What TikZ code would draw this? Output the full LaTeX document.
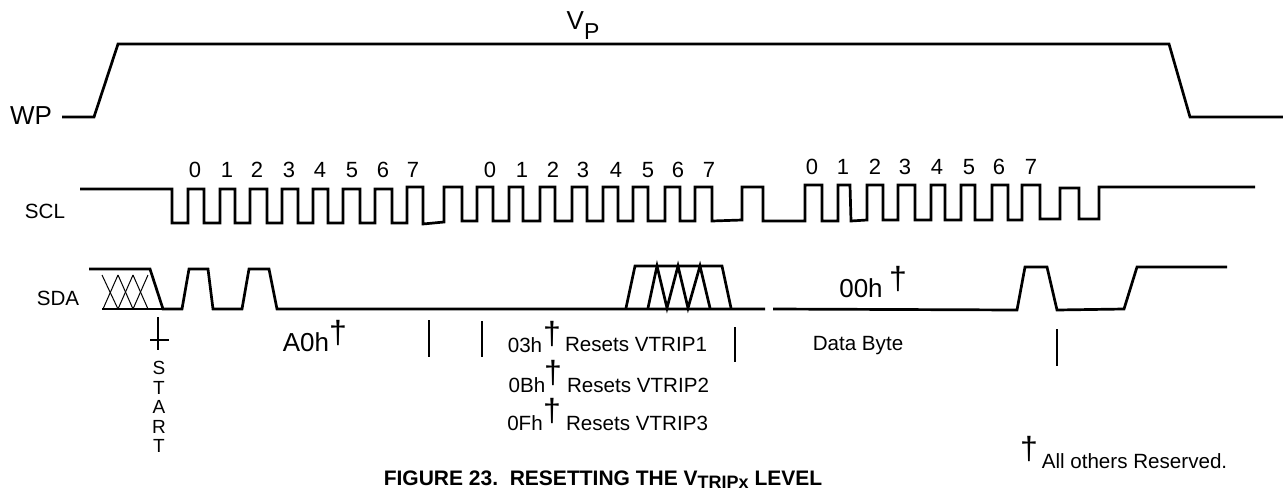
\documentclass[tikz,border=0pt]{standalone}
\usepackage{fontspec}
\setmainfont{Liberation Sans}
\tikzset{
  wave/.style={line width=2.7pt,line join=miter},
  thinwave/.style={line width=1pt},
  mark line/.style={line width=1.6pt},
  lab/.style={inner sep=0pt,font=\fontsize{20.6}{22}\selectfont},
  biglab/.style={inner sep=0pt,font=\fontsize{26}{28}\selectfont},
  bit/.style={inner sep=0pt,font=\fontsize{22}{24}\selectfont},
  dag/.style={inner sep=0pt,font=\fontsize{32}{34}\selectfont},
}
\begin{document}
\begin{tikzpicture}[x=1pt,y=-1pt]
\useasboundingbox (0,0) rectangle (1283,490);

% WP
\node (wp) at (31,116) [biglab] {WP};
\node (vp) at (583,29) [biglab,anchor=base] {V\raisebox{-10pt}{\fontsize{23}{24}\selectfont P}};
\draw [wave] (62,117) -- (94,117) -- (118,44) -- (1169,44) -- (1190,117) -- (1283,117);

% SCL
\node (scl) at (45,211) [lab] {SCL};
\draw [wave] (80,189) -- (172,189) -- (172,223) -- (188,223) -- (188,189) -- (204,189) -- (204,223) -- (220,223) -- (220,189)
  -- (235,189) -- (235,223) -- (250,223) -- (250,189) -- (267,189) -- (267,223) -- (282,223) -- (282,189)
  -- (298,189) -- (298,223) -- (313,223) -- (313,189) -- (328,189) -- (328,223) -- (343,223) -- (343,189)
  -- (360,189) -- (360,223) -- (375,223) -- (375,189) -- (392,189) -- (392,223) -- (407,223) -- (407,187)
  -- (423,187) -- (423,224) -- (444,222) -- (444,187) -- (462,187) -- (462,221) -- (477,221) -- (477,187)
  -- (493,187) -- (493,221) -- (509,221) -- (509,187) -- (523,187) -- (523,221) -- (540,221) -- (540,187)
  -- (555,187) -- (555,221) -- (572,221) -- (572,187) -- (587,187) -- (587,221) -- (603,221) -- (603,187)
  -- (618,187) -- (618,221) -- (633,221) -- (633,187) -- (648,187) -- (648,221) -- (665,221) -- (665,187)
  -- (680,187) -- (680,221) -- (695,221) -- (695,187) -- (712,187) -- (712,221) -- (742,220) -- (742,187)
  -- (763,187) -- (763,221) -- (805,221) -- (805,185) -- (822,185) -- (822,221) -- (838,221) -- (838,185)
  -- (850,185) -- (851,221) -- (867,220) -- (867,185) -- (883,185) -- (883,220) -- (898,220) -- (898,185)
  -- (915,185) -- (915,220) -- (931,220) -- (931,185) -- (945,185) -- (945,220) -- (961,220) -- (961,185)
  -- (975,185) -- (975,220) -- (992,220) -- (992,185) -- (1008,185) -- (1008,220) -- (1022,220) -- (1022,185)
  -- (1040,185) -- (1040,219) -- (1060,219) -- (1060,188) -- (1079,188) -- (1079,219) -- (1099,219) -- (1099,187) -- (1255,187);

% bit numbers
\node (a0) at (195,170) [bit] {0};
\node (a1) at (227,170) [bit] {1};
\node (a2) at (257,170) [bit] {2};
\node (a3) at (289,170) [bit] {3};
\node (a4) at (320,170) [bit] {4};
\node (a5) at (352,170) [bit] {5};
\node (a6) at (383,170) [bit] {6};
\node (a7) at (413,170) [bit] {7};
\node (b0) at (490,170) [bit] {0};
\node (b1) at (522,170) [bit] {1};
\node (b2) at (553,170) [bit] {2};
\node (b3) at (583,170) [bit] {3};
\node (b4) at (616,170) [bit] {4};
\node (b5) at (648,170) [bit] {5};
\node (b6) at (678,170) [bit] {6};
\node (b7) at (709,170) [bit] {7};
\node (c0) at (812,167) [bit] {0};
\node (c1) at (843,167) [bit] {1};
\node (c2) at (875,167) [bit] {2};
\node (c3) at (905,167) [bit] {3};
\node (c4) at (937,167) [bit] {4};
\node (c5) at (969,167) [bit] {5};
\node (c6) at (999,167) [bit] {6};
\node (c7) at (1031,167) [bit] {7};

% SDA
\node (sda) at (58,298) [lab] {SDA};
\draw [wave] (89,269) -- (150,269) -- (163,309) -- (182,309) -- (189,269) -- (208,269) -- (213,309) -- (242,309) -- (249,269) -- (269,269) -- (277,309) -- (765,309);
\draw [wave] (102,309) -- (163,309);
\draw [thinwave] (102,275) -- (118,309);
\draw [thinwave] (118,275) -- (103,309);
\draw [thinwave] (118,275) -- (133,309);
\draw [thinwave] (133,275) -- (118,309);
\draw [thinwave] (133,275) -- (148,309);
\draw [thinwave] (148,275) -- (133,309);
\draw [wave] (626,308) -- (635,266) -- (722,266) -- (731,308);
\draw [wave] (648,308) -- (657,266) -- (667,308) -- (678,266) -- (688,308) -- (700,266) -- (710,308);
\draw [wave] (773,309) -- (1017,310) -- (1025,267) -- (1047,267) -- (1057,310) -- (1124,309) -- (1137,267) -- (1227,267);

% ticks
\draw [mark line] (158,317) -- (158,350);
\draw [wave] (150,340) -- (169,340);
\draw [mark line] (429,320) -- (429,357);
\draw [mark line] (482,321) -- (482,357);
\draw [mark line] (735,327) -- (735,362);
\draw [mark line] (1057,329) -- (1057,366);

% START
\node (start) at (159,407) [inner sep=0pt,align=center,font=\fontsize{19}{19.5}\selectfont] {S\\T\\A\\R\\T};

% data labels
\node (a0h) at (306,342) [biglab] {A0h};
\node (d1) at (338,333) [dag] {†};
\node (h03) at (525,345) [lab] {03h};
\node (d2) at (552,334) [dag] {†};
\node (r1) at (636,345) [lab] {Resets VTRIP1};
\node (h0b) at (527,385) [lab] {0Bh};
\node (d3) at (553,373) [dag] {†};
\node (r2) at (638,385) [lab] {Resets VTRIP2};
\node (h0f) at (525,423) [lab] {0Fh};
\node (d4) at (552,411) [dag] {†};
\node (r3) at (637,423) [lab] {Resets VTRIP3};
\node (h00) at (861,288) [biglab] {00h};
\node (d5) at (898,279) [dag] {†};
\node (byte) at (858,346) [lab] {Data Byte};
\node (d6) at (1029,449) [dag] {†};
\node (res) at (1134.5,461) [lab] {All others Reserved.};

% caption
\node (cap) at (603,485) [inner sep=0pt,anchor=base,font=\fontsize{21}{24}\selectfont] {\bfseries FIGURE 23.\ \ RESETTING THE V\raisebox{-3pt}{\fontsize{18}{20}\selectfont TRIPx} LEVEL};
\end{tikzpicture}
\end{document}
